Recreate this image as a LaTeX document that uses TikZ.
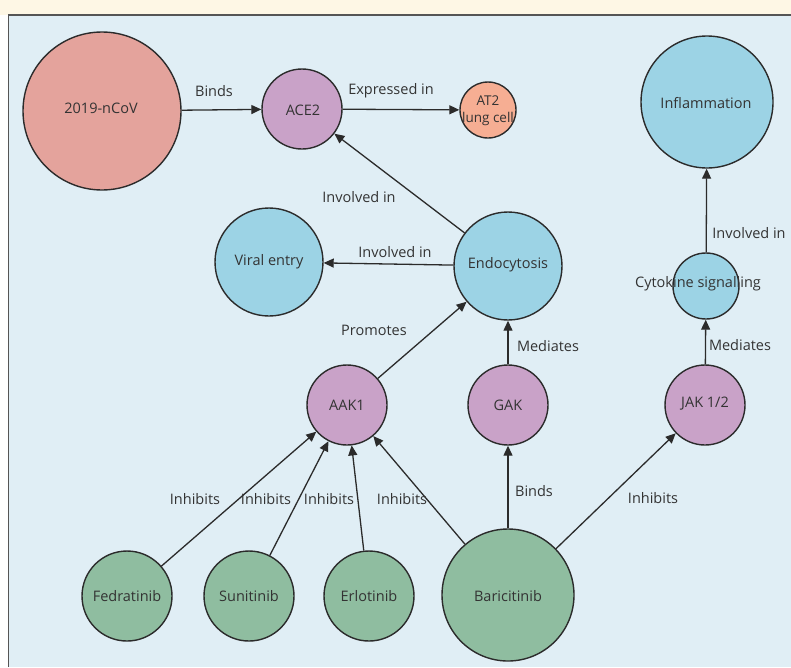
\documentclass[tikz,border=0pt]{standalone}
\usepackage{fontspec}
\setmainfont{Open Sans}
\usetikzlibrary{arrows.meta}
\definecolor{cream}{HTML}{FEF7E5}
\definecolor{panel}{HTML}{E0EEF5}
\definecolor{covc}{HTML}{E4A39C}
\definecolor{purp}{HTML}{C9A2C8}
\definecolor{at2c}{HTML}{F6AE93}
\definecolor{bluec}{HTML}{9CD3E5}
\definecolor{greenc}{HTML}{8FBDA0}
\definecolor{txt}{HTML}{333333}
\definecolor{linec}{HTML}{2B2B2B}
\tikzset{
  bub/.style={circle, draw=linec, line width=1.4pt, minimum size=#1, inner sep=0pt},
  ntext/.style={text=txt, font=\fontsize{14.5}{17}\selectfont, align=center, inner sep=0pt},
  lab/.style={text=txt, font=\fontsize{14.5}{17}\selectfont, inner sep=0pt},
  arr/.style={draw=linec, line width=1.3pt, -{Triangle[length=10pt,width=9pt]}}
}
\begin{document}
\begin{tikzpicture}[x=1pt,y=-1pt]
\useasboundingbox (0,0) rectangle (791,667);
\fill[cream] (0,0) rectangle (791,15);
\fill[panel] (8.5,15) rectangle (791,667);
\draw[linec!80, line width=1.2pt] (8.5,667) -- (8.5,15) -- (791,15);

% nodes
\node[bub=158pt, fill=covc] (cov) at (102,111) {};
\node[ntext] (tcov) at (101,108) {2019-nCoV};
\node[bub=80pt, fill=purp] (ace) at (302,109) {};
\node[ntext] (tace) at (303,110) {ACE2};
\node[bub=56pt, fill=at2c] (at2) at (488,110) {};
\node[ntext] (tat2) at (488,111) {\fontsize{13.5}{19}\selectfont AT2\\\fontsize{13.5}{19}\selectfont lung cell};
\node[bub=132pt, fill=bluec] (inf) at (707,102) {};
\node[ntext] (tinf) at (706,103) {Inflammation};
\node[bub=108pt, fill=bluec] (vir) at (269,262) {};
\node[ntext] (tvir) at (269,262) {Viral entry};
\node[bub=108pt, fill=bluec] (endo) at (508,266) {};
\node[ntext] (tendo) at (508,265) {Endocytosis};
\node[bub=66pt, fill=bluec] (cyt) at (706,286) {};
\node[ntext] (tcyt) at (698,284) {Cytokine signalling};
\node[bub=80pt, fill=purp] (aak) at (347,405) {};
\node[ntext] (taak) at (347,405) {AAK1};
\node[bub=80pt, fill=purp] (gak) at (508,405) {};
\node[ntext] (tgak) at (508,405) {GAK};
\node[bub=80pt, fill=purp] (jak) at (705,405) {};
\node[ntext] (tjak) at (705,404) {JAK 1/2};
\node[bub=90pt, fill=greenc] (fed) at (127,596) {};
\node[ntext] (tfed) at (127,596) {Fedratinib};
\node[bub=90pt, fill=greenc] (sun) at (249,596) {};
\node[ntext] (tsun) at (249,596) {Sunitinib};
\node[bub=90pt, fill=greenc] (erl) at (369,596) {};
\node[ntext] (terl) at (369,596) {Erlotinib};
\node[bub=132pt, fill=greenc] (bar) at (508,595) {};
\node[ntext] (tbar) at (508,596) {Baricitinib};

% connectors
\draw[arr] (cov) -- (ace);
\draw[arr] (ace) -- (at2);
\draw[arr] (endo) -- (ace);
\draw[arr] (endo) -- (vir);
\draw[arr] (aak) -- (endo);
\draw[arr] (gak) -- (endo);
\draw[arr] (jak) -- (cyt);
\draw[arr] (cyt) -- (inf);
\draw[arr] (fed) -- (aak);
\draw[arr] (sun) -- (aak);
\draw[arr] (erl) -- (aak);
\draw[arr] (bar) -- (aak);
\draw[arr] (bar) -- (gak);
\draw[arr] (bar) -- (jak);

% labels
\node[lab] (l1) at (214,91) {Binds};
\node[lab] (l2) at (391,91) {Expressed in};
\node[lab] (l3) at (359,197) {Involved in};
\node[lab] (l4) at (395,252) {Involved in};
\node[lab] (l5) at (374,330) {Promotes};
\node[lab] (l6) at (548,346) {Mediates};
\node[lab] (l7) at (740,345) {Mediates};
\node[lab] (l8) at (749,233) {Involved in};
\node[lab] (l9) at (195,499) {Inhibits};
\node[lab] (l10) at (266,499) {Inhibits};
\node[lab] (l11) at (329,499) {Inhibits};
\node[lab] (l12) at (402,499) {Inhibits};
\node[lab] (l13) at (534,491) {Binds};
\node[lab] (l14) at (653,498) {Inhibits};
\end{tikzpicture}
\end{document}
